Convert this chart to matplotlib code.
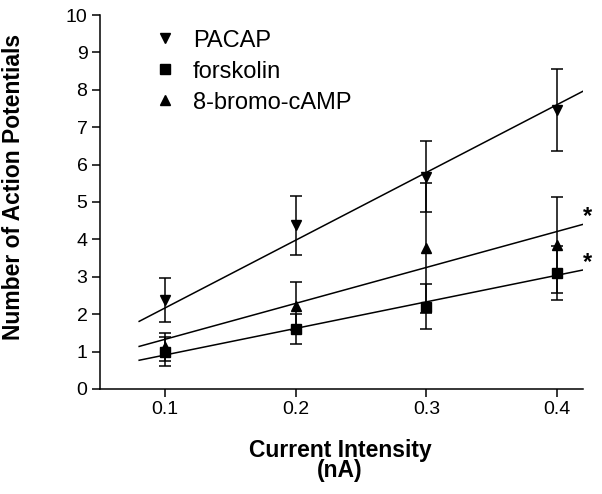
import numpy as np
import matplotlib.pyplot as plt
from matplotlib.lines import Line2D

plt.rcParams['font.family'] = ['Liberation Sans', 'DejaVu Sans']

# data
current = [0.1, 0.2, 0.3, 0.4]

pacap = [2.38, 4.38, 5.68, 7.46]
pacap_err = [0.59, 0.79, 0.95, 1.09]

forskolin = [1.0, 1.6, 2.2, 3.1]
forskolin_err = [0.38, 0.4, 0.6, 0.72]

bromo = [1.12, 2.22, 3.76, 3.85]
bromo_err = [0.38, 0.65, 1.74, 1.28]

# regression lines as drawn (slope, intercept)
pacap_fit = (18.1, 0.36)
forskolin_fit = (7.1, 0.20)
bromo_fit = (9.6, 0.37)
fit_x = [0.08, 0.42]

labels = ['PACAP', 'forskolin', '8-bromo-cAMP']
markers = ['v', 's', '^']

fig = plt.figure(figsize=(6.02, 4.94), dpi=100)
ax = fig.add_axes([0.1661, 0.2126, 0.8023, 0.757])

series = [(pacap, pacap_err, pacap_fit), (forskolin, forskolin_err, forskolin_fit),
          (bromo, bromo_err, bromo_fit)]

for (vals, err, fit), m in zip(series, markers):
    xs = np.array(fit_x)
    ax.plot(xs, fit[0] * xs + fit[1], color='black', lw=1.1)
    ax.errorbar(current, vals, yerr=err, fmt=m, color='black', ms=6.5,
                ecolor='black', elinewidth=1.1, capsize=4, capthick=1.1)

# significance marks
ax.text(0.4235, 4.6, '*', fontsize=17, fontweight='bold', ha='center', va='center', clip_on=False)
ax.text(0.4235, 3.38, '*', fontsize=17, fontweight='bold', ha='center', va='center', clip_on=False)

ax.set_xlim(0.05, 0.42)
ax.set_ylim(0, 10)
ax.set_xticks(current)
ax.set_xticklabels(['0.1', '0.2', '0.3', '0.4'])
ax.set_yticks(range(0, 11))
ax.tick_params(labelsize=14, length=6, width=1.1, pad=3)
ax.spines['top'].set_visible(False)
ax.spines['right'].set_visible(False)
ax.spines['left'].set_linewidth(1.1)
ax.spines['bottom'].set_linewidth(1.1)

ax.set_ylabel('Number of Action Potentials', fontsize=16.5, fontweight='bold')
ax.yaxis.set_label_coords(-0.155, 0.54)
ax.set_xlabel('Current Intensity\n(nA)', fontsize=16.5, fontweight='bold', linespacing=0.85)
ax.xaxis.set_label_coords(0.497, -0.134)

handles = [Line2D([], [], ls='none', marker=m, color='black', ms=6.5) for m in markers]
ax.legend(handles, labels, loc='upper left', bbox_to_anchor=(0.09, 0.986), frameon=False,
          fontsize=17, handlelength=1.0, handletextpad=0.7, labelspacing=0.38,
          borderaxespad=0)

fig.savefig('out.png', dpi=100)
